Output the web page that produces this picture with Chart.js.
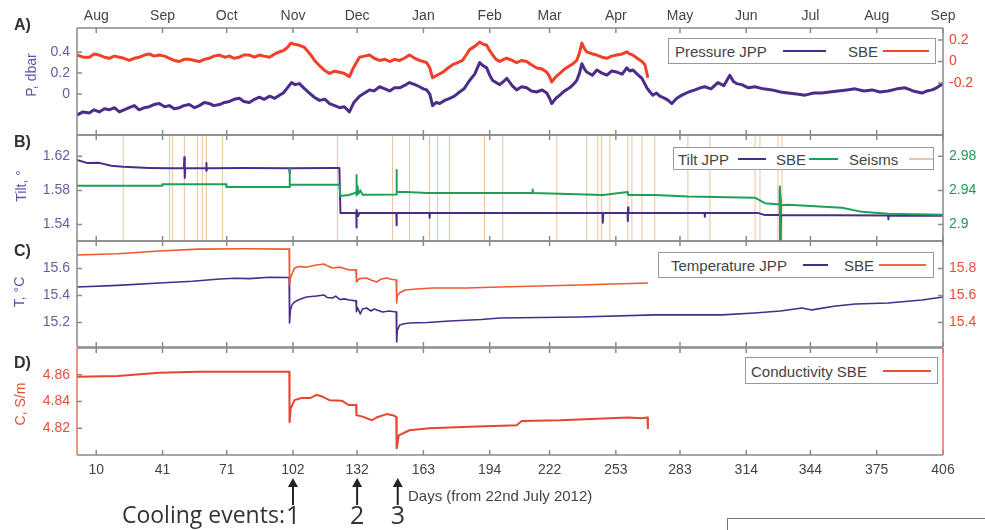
<!DOCTYPE html>
<html>
<head>
<meta charset="utf-8">
<script src="https://cdn.jsdelivr.net/npm/chart.js@4.4.1/dist/chart.umd.min.js"></script>
<style>
body{margin:0;background:#fff;width:985px;height:530px;position:relative;overflow:hidden;font-family:"Liberation Sans",Arial,sans-serif;}
canvas{position:absolute;left:0;}
.pl{position:absolute;font-weight:bold;font-size:16px;line-height:16px;color:#333;}
.yt{position:absolute;font-size:14px;white-space:nowrap;transform:translate(-50%,-50%) rotate(-90deg);}
.leg{position:absolute;border:1px solid #999;background:#fff;font-size:15px;color:#444;}
.leg span{position:absolute;top:50%;transform:translateY(-50%);white-space:nowrap;}
.leg b{position:absolute;top:50%;height:2px;margin-top:-1px;}
.ann{position:absolute;font-family:"Open Sans",sans-serif;color:#333;white-space:nowrap;line-height:1;}
</style>
</head>
<body>
<canvas id="pA" width="985" height="137" style="top:0"></canvas>
<canvas id="pB" width="985" height="110" style="top:133px"></canvas>
<canvas id="pC" width="985" height="110" style="top:239px"></canvas>
<canvas id="pD" width="985" height="184" style="top:346px"></canvas>

<div class="pl" style="left:14px;top:17px">A)</div>
<div class="pl" style="left:14px;top:134px">B)</div>
<div class="pl" style="left:14px;top:243px">C)</div>
<div class="pl" style="left:14px;top:355px">D)</div>

<div class="yt" style="left:31px;top:75px;color:#6a4fa8">P, dbar</div>
<div class="yt" style="left:21px;top:186px;color:#6a4fa8">Tilt, °</div>
<div class="yt" style="left:19px;top:292px;color:#6a4fa8">T, °C</div>
<div class="yt" style="left:20px;top:404px;color:#e0503a">C, S/m</div>

<div class="leg" style="left:668px;top:38px;width:266px;height:24px">
  <span style="left:6px">Pressure JPP</span><b style="left:114px;width:43px;background:#4a2c8a"></b>
  <span style="left:179px">SBE</span><b style="left:214px;width:46px;background:#f0452a"></b>
</div>
<div class="leg" style="left:673px;top:147px;width:259px;height:21px">
  <span style="left:4px">Tilt JPP</span><b style="left:64px;width:28px;background:#4a2c8a"></b>
  <span style="left:102px">SBE</span><b style="left:135px;width:29px;background:#1fa05a"></b>
  <span style="left:175px">Seisms</span><b style="left:235px;width:24px;background:#e7c9a6"></b>
</div>
<div class="leg" style="left:658px;top:252px;width:274px;height:24px">
  <span style="left:12px">Temperature JPP</span><b style="left:144px;width:25px;background:#4a2c8a"></b>
  <span style="left:185px">SBE</span><b style="left:220px;width:47px;background:#ee6a3a"></b>
</div>
<div class="leg" style="left:745px;top:357px;width:191px;height:25px">
  <span style="left:5px">Conductivity SBE</span><b style="left:137px;width:48px;background:#e8503a"></b>
</div>

<div class="ann" id="days" style="font-family:'Liberation Sans',Arial,sans-serif;font-size:15px;color:#444;left:408px;top:488px">Days (from 22nd July 2012)</div>
<div class="ann" id="cool" style="font-size:23px;top:503px">Cooling events:</div>
<div class="ann" id="ev1" style="font-size:25px;top:502px">1</div>
<div class="ann" id="ev2" style="font-size:25px;top:502px">2</div>
<div class="ann" id="ev3" style="font-size:25px;top:502px">3</div>
<div style="position:absolute;left:727px;top:518px;width:260px;height:20px;border-top:1px solid #777;border-left:1px solid #777"></div>

<script>
// month starts, in days from 22 July 2012
var dayTicks = [10,41,71,102,132,163,194,222,253,283,314,344,375,406];
var monthNames = ['Aug','Sep','Oct','Nov','Dec','Jan','Feb','Mar','Apr','May','Jun','Jul','Aug','Sep'];
var coolingDays = [102,132,151];

// pressure, dbar  [day, value]
var presJPP = [[1,-0.20],[3.8,-0.17],[6.7,-0.18],[9,-0.15],[11.4,-0.17],[13.8,-0.14],[16.1,-0.15],[18.5,-0.13],[20.8,-0.17],[23,-0.15],
  [25.4,-0.13],[27.8,-0.11],[30.1,-0.15],[32.5,-0.13],[34.8,-0.12],[37,-0.10],[39.5,-0.09],[42,-0.12],[44.2,-0.11],[46.5,-0.14],
  [48.9,-0.13],[51,-0.11],[53.5,-0.10],[56,-0.13],[58.2,-0.11],[60.5,-0.08],[62.9,-0.09],[65,-0.11],[67.6,-0.10],[70,-0.08],
  [72.3,-0.07],[74.5,-0.05],[76.9,-0.04],[79,-0.07],[81.6,-0.08],[84,-0.05],[86.3,-0.03],[88.5,-0.05],[91,-0.02],[93.5,-0.04],
  [95.7,-0.01],[97.5,0.01],[99.4,0.06],[101.3,0.11],[103,0.09],[105,0.10],[107.5,0.05],[109.7,0.01],[112,-0.03],[114.4,-0.06],
  [117,-0.05],[119.1,-0.09],[121.5,-0.11],[123.8,-0.13],[126,-0.12],[128.4,-0.17],[130.5,-0.08],[133.1,-0.02],[135.5,0.01],[137.8,0.04],
  [140,0.03],[142.5,0.07],[145,0.05],[147.2,0.03],[149.5,0.06],[151.9,0.06],[154,0.08],[156.5,0.11],[159,0.09],[161.2,0.07],
  [163,0.05],[164.5,0.04],[166,0.00],[167.3,-0.11],[169,-0.08],[170.6,-0.09],[173,-0.06],[175.3,-0.04],[177.5,-0.02],[179.9,0.02],
  [182,0.05],[184.6,0.13],[187,0.19],[189.3,0.30],[191,0.27],[192.6,0.25],[194,0.18],[195.4,0.13],[197,0.11],[198.7,0.09],
  [200.5,0.12],[202,0.15],[204.5,0.08],[206.6,0.04],[209,0.07],[211.3,0.06],[213.5,0.03],[216,0.02],[218.5,0.04],[220.7,0.01],
  [222,-0.04],[223,-0.09],[225,-0.04],[226.8,-0.01],[229,0.03],[231.4,0.06],[233,0.09],[234.7,0.13],[236,0.20],[237.1,0.29],
  [238.3,0.24],[239.4,0.21],[242,0.18],[244.1,0.23],[246.5,0.20],[248.8,0.18],[251,0.22],[253.4,0.21],[256,0.19],[258.1,0.25],
  [259.5,0.22],[260.9,0.23],[263,0.19],[265.2,0.15],[266.5,0.10],[267.5,0.06],[269,0.02],[270.3,-0.01],[272,0.01],[273.6,-0.02],
  [275.9,-0.04],[277.5,-0.06],[279.2,-0.09],[281.5,-0.04],[283.9,-0.01],[287,0.02],[290,0.04],[292.5,0.06],[294.6,0.07],[297.5,0.05],
  [300.7,0.11],[303.5,0.08],[306.3,0.18],[308,0.12],[309.5,0.10],[311.9,0.09],[315,0.06],[318,0.07],[322,0.05],[326,0.04],
  [330,0.02],[333.5,0.01],[337.5,0.00],[341.5,-0.01],[345.5,0.01],[349.4,0.01],[353,0.02],[356.9,0.03],[361,0.04],[364.9,0.05],
  [369,0.03],[372.8,0.04],[376.5,0.02],[380.3,0.03],[384.5,0.05],[388.3,0.06],[392,0.03],[396.2,0.01],[398.5,0.03],[400.9,0.04],
  [403,0.06],[406,0.10]];
var presSBE = [[1,0.06],[3.8,0.04],[6.7,0.04],[9,0.07],[11.4,0.06],[13.8,0.04],[16.1,0.03],[18.5,0.05],[20.8,0.04],[23,0.03],
  [25.4,0.01],[27.8,0.03],[30.1,0.04],[32.5,0.06],[34.8,0.07],[37,0.05],[39.5,0.06],[42,0.05],[44.2,0.03],[46.5,0.01],
  [48.9,0.00],[51,0.02],[53.5,0.02],[56,0.01],[58.2,0.00],[60.5,0.02],[62.9,0.03],[65,0.05],[67.6,0.06],[70,0.04],
  [72.3,0.05],[74.5,0.03],[76.9,0.04],[79,0.06],[81.6,0.06],[84,0.04],[86.3,0.06],[88.5,0.05],[91,0.04],[93.5,0.07],
  [95.7,0.09],[97.5,0.10],[99.4,0.13],[101,0.17],[102.7,0.16],[105,0.15],[107.4,0.13],[110,0.07],[112.1,0.01],[114.5,-0.04],
  [116.7,-0.08],[119.1,-0.11],[121.5,-0.09],[123.8,-0.10],[126,-0.11],[128.4,-0.14],[130.5,-0.05],[133.1,0.04],[135.5,0.05],[137.8,0.06],
  [140,0.03],[142.5,0.01],[145,0.02],[147.2,0.00],[149.5,0.02],[151.9,0.01],[154,0.03],[156.5,0.06],[159,0.03],[161.2,0.01],
  [163,0.00],[164.5,-0.01],[166,-0.06],[167.3,-0.15],[170,-0.12],[172,-0.10],[174.5,-0.06],[176.7,-0.03],[179,-0.01],[181.3,0.01],
  [183,0.06],[184.6,0.11],[187,0.14],[189.3,0.18],[191,0.16],[192.6,0.15],[194,0.10],[195.4,0.06],[197,0.02],[198.7,0.00],
  [200.5,0.02],[202,0.03],[204.5,0.01],[206.6,-0.01],[209,0.01],[211.3,0.00],[213.5,-0.03],[216,-0.06],[218.5,-0.07],[220.7,-0.10],
  [222,-0.14],[223,-0.19],[225,-0.14],[226.8,-0.11],[229,-0.07],[231.4,-0.04],[233,-0.02],[234.7,0.01],[236,0.08],[237.1,0.17],
  [238.3,0.12],[239.4,0.09],[242,0.07],[244.1,0.06],[246.5,0.04],[248.8,0.03],[251,0.05],[253.4,0.06],[256,0.07],[258.1,0.09],
  [259.5,0.07],[260.9,0.06],[263,0.03],[265.2,0.00],[266.6,-0.03],[268,-0.15]];

// tilt, degrees
var tiltJPP = [[1,1.6158],[6,1.612],[11.4,1.6123],[17,1.609],[22.6,1.6076],[30,1.6068],[34.8,1.6064],[45,1.606],[51,1.606],[51.2,1.619],
  [51.4,1.5947],[51.6,1.606],[61.4,1.606],[61.5,1.612],[61.6,1.603],[61.8,1.606],[80,1.6062],[100.3,1.606],[100.4,1.600],[100.6,1.606],
  [119.1,1.6064],[123.7,1.6064],[124.2,1.5536],[131.6,1.5536],[131.7,1.5365],[131.8,1.557],[132,1.5536],[132.5,1.550],[133,1.5536],[150.3,1.5536],
  [150.4,1.539],[150.6,1.5536],[165.8,1.5536],[165.9,1.548],[166.1,1.5536],[246.8,1.5536],[246.9,1.542],[247.1,1.5536],[258.5,1.5536],[258.6,1.544],
  [258.7,1.560],[258.9,1.5536],[294.5,1.5536],[294.6,1.549],[294.8,1.5536],[319.4,1.5536],[322.7,1.551],[329.6,1.551],[329.7,1.582],[329.8,1.5219],
  [329.9,1.570],[330.1,1.535],[330.3,1.551],[380.3,1.5505],[380.4,1.546],[380.6,1.5505],[406,1.5502]];
var tiltSBE = [[1,2.9453],[40.8,2.9453],[40.9,2.9472],[70.8,2.9472],[70.9,2.9441],[100.3,2.9441],[100.4,2.9664],[100.6,2.9441],[101,2.9465],[123.7,2.9465],
  [124.2,2.9335],[128,2.9345],[130,2.936],[131.6,2.938],[131.7,2.9582],[131.8,2.934],[132.2,2.945],[132.6,2.936],[133.5,2.940],[134.5,2.935],
  [136,2.935],[150.3,2.9352],[150.4,2.964],[150.6,2.9382],[155,2.9382],[165,2.937],[214,2.937],[214.1,2.941],[214.3,2.937],[246.9,2.9347],
  [258.6,2.938],[258.8,2.9347],[271.2,2.9347],[286.7,2.9327],[318,2.9315],[322.7,2.925],[329.6,2.9235],[329.7,2.9446],[329.8,2.882],[329.9,2.935],
  [330.1,2.910],[330.3,2.9225],[333.5,2.923],[358.8,2.9195],[368.1,2.9148],[380.3,2.9125],[406,2.9113]];
var seismDays = [22.6,44.2,45.6,51.2,57.3,59.6,61.5,69,122.8,148.6,156.5,165.9,169.6,175.3,191.6,200.1,225.4,239.4,244.6,246.4,
  250.2,258.6,260.5,265.2,271.2,286.7,297,318.1,320.4,328.8,330.7];

// temperature, deg C
var tempJPP = [[1,15.463],[20,15.475],[39.5,15.493],[55,15.505],[67.6,15.522],[75,15.528],[81.6,15.525],[91,15.535],[100.2,15.533],[100.4,15.196],
  [100.8,15.29],[101.5,15.33],[102.7,15.352],[105,15.37],[108.3,15.389],[113,15.396],[116.5,15.404],[118,15.385],[120.5,15.381],[122,15.395],
  [124,15.37],[126,15.375],[128.4,15.367],[131.5,15.36],[131.7,15.28],[132.2,15.31],[133.5,15.263],[134.5,15.30],[136.4,15.307],[138.5,15.285],
  [140,15.30],[143.9,15.278],[147,15.285],[150.3,15.278],[150.5,15.056],[150.8,15.14],[151.9,15.181],[154,15.19],[156.5,15.196],[165,15.20],
  [175.3,15.211],[190,15.222],[198.7,15.233],[236,15.241],[271.2,15.256],[302.6,15.256],[318,15.27],[330,15.285],[340,15.307],[344.7,15.293],
  [355,15.32],[364.9,15.337],[380.3,15.344],[396.2,15.367],[406,15.389]];
var tempSBE = [[1,15.900],[20,15.91],[39.5,15.930],[58,15.944],[80,15.946],[100.2,15.944],[100.4,15.678],[100.8,15.73],[102.7,15.804],[105,15.815],
  [108,15.81],[113,15.826],[116.5,15.833],[118,15.82],[120.5,15.804],[124,15.81],[128.4,15.789],[131.5,15.79],[131.7,15.70],[133,15.725],
  [136.4,15.73],[138.5,15.715],[141.1,15.70],[143,15.72],[145.8,15.73],[148,15.72],[150.3,15.715],[150.5,15.544],[150.8,15.60],[152,15.62],
  [154.5,15.641],[160,15.648],[167.3,15.656],[183.2,15.656],[198.7,15.663],[236,15.678],[268,15.693]];

// conductivity, S/m
var condSBE = [[1,4.8585],[20,4.859],[39.5,4.8615],[58,4.8623],[100.3,4.8623],[100.4,4.8245],[101,4.835],[102.7,4.841],[106,4.8426],[110,4.8426],
  [113,4.845],[116,4.8435],[119.1,4.841],[125,4.8405],[128,4.8374],[131.5,4.8374],[131.7,4.8298],[134.5,4.8287],[139,4.826],[141,4.828],
  [145.8,4.8306],[148.6,4.8298],[150.3,4.8285],[150.5,4.805],[151.5,4.8147],[156.5,4.8185],[165.9,4.82],[181.3,4.821],[206.6,4.8223],[209,4.8255],
  [227,4.826],[258.6,4.828],[265.2,4.8275],[267.8,4.828],[268,4.82]];

var PURPLE = '#4a2c8a', RED = '#f0402a', GREEN = '#1fa05a', ORANGE = '#ee5a30', CRED = '#e6452f';
var FONT = {family:'"Liberation Sans", Arial, sans-serif', size:14};

function xy(arr){ return arr.map(function(p){ return {x:p[0], y:p[1]}; }); }

function line(arr, color, w, axis, order){
  return {data: xy(arr), borderColor: color, borderWidth: w, yAxisID: axis, order: order || 0, fill: false};
}

// frame round the plot area with inward ticks on all sides
var frame = {
  id: 'frame',
  afterDraw: function(c, args, o){
    var a = c.chartArea, g = c.ctx, xs = c.scales.x;
    g.save();
    g.lineWidth = 1.5;
    g.strokeStyle = '#8a8a8a';
    g.beginPath();
    dayTicks.forEach(function(d){
      var p = xs.getPixelForValue(d);
      g.moveTo(p, a.top); g.lineTo(p, a.top + 5);
      g.moveTo(p, a.bottom); g.lineTo(p, a.bottom - 5);
    });
    ['y','y2'].forEach(function(id){
      var s = c.scales[id];
      if (!s) return;
      s.ticks.forEach(function(t){
        var py = s.getPixelForValue(t.value);
        if (s.position === 'left') { g.moveTo(a.left, py); g.lineTo(a.left + 5, py); }
        else { g.moveTo(a.right, py); g.lineTo(a.right - 5, py); }
      });
    });
    g.moveTo(a.left, a.top); g.lineTo(a.right, a.top);
    g.moveTo(a.left, a.bottom); g.lineTo(a.right, a.bottom);
    g.stroke();
    g.beginPath(); g.strokeStyle = o.leftColor || '#8a8a8a';
    g.moveTo(a.left, a.top); g.lineTo(a.left, a.bottom); g.stroke();
    g.beginPath(); g.strokeStyle = o.rightColor || '#8a8a8a';
    g.moveTo(a.right, a.top); g.lineTo(a.right, a.bottom); g.stroke();
    g.restore();
  }
};

// arrows under the day axis for the cooling events
var arrows = {
  id: 'arrows',
  afterDraw: function(c){
    var a = c.chartArea, g = c.ctx, xs = c.scales.x;
    g.save();
    g.strokeStyle = '#222'; g.fillStyle = '#222'; g.lineWidth = 2;
    coolingDays.forEach(function(d){
      var p = xs.getPixelForValue(d), tip = a.bottom + 23;
      g.beginPath(); g.moveTo(p, tip + 4); g.lineTo(p, a.bottom + 50); g.stroke();
      g.beginPath(); g.moveTo(p, tip); g.lineTo(p - 5, tip + 9); g.lineTo(p + 5, tip + 9); g.closePath(); g.fill();
    });
    g.restore();
  }
};

function yAxis(pos, min, max, ticks, color){
  return {
    type: 'linear', axis: 'y', position: pos, min: min, max: max,
    afterBuildTicks: function(s){ s.ticks = ticks.map(function(v){ return {value: v}; }); },
    afterFit: function(s){ s.width = pos === 'left' ? 77 : 42; s.paddingTop = 0; s.paddingBottom = 0; },
    grid: {display: false, drawTicks: false}, border: {display: false},
    ticks: {color: color, padding: pos === 'left' ? 7 : 6, font: FONT, callback: function(v){ return String(v); }}
  };
}

function xAxis(pos, labels){
  return {
    type: 'linear', min: 1, max: 406, display: !!pos, position: pos || 'bottom',
    afterBuildTicks: function(s){ s.ticks = dayTicks.map(function(v){ return {value: v}; }); },
    afterFit: function(s){ if (pos) s.height = pos === 'top' ? 28 : 30; s.paddingLeft = 0; s.paddingRight = 0; },
    grid: {display: false, drawTicks: false}, border: {display: false},
    ticks: {color: '#444', padding: pos === 'top' ? 3 : 7, font: FONT, autoSkip: false, maxRotation: 0,
      callback: function(v, i){ return labels[i]; }}
  };
}

function panel(id, pad, sets, scales, frameOpts, extra){
  return new Chart(document.getElementById(id), {
    type: 'line',
    data: {datasets: sets},
    options: {
      responsive: false, animation: false, devicePixelRatio: 1,
      layout: {padding: pad},
      plugins: {legend: {display: false}, tooltip: {enabled: false}, frame: frameOpts || {}},
      elements: {point: {radius: 0}, line: {tension: 0, borderJoinStyle: 'round'}},
      scales: scales
    },
    plugins: [frame].concat(extra || [])
  });
}

// A) pressure
panel('pA', {top: 0, bottom: 2},
  [line(presJPP, PURPLE, 3, 'y', 1), line(presSBE, RED, 3, 'y2', 0)],
  {x: xAxis('top', monthNames),
   y: yAxis('left', -0.39, 0.63, [0, 0.2, 0.4], '#6d5aa0'),
   y2: yAxis('right', -0.68, 0.31, [-0.2, 0, 0.2], '#e8452e')});

// B) tilt, with seism marks
var seismLines = [];
seismDays.forEach(function(d){
  seismLines.push({x: d, y: 1.5206}, {x: d, y: 1.645}, {x: d, y: null});
});
panel('pB', {top: 2, bottom: 2},
  [{data: seismLines, borderColor: 'rgba(222,170,115,0.7)', borderWidth: 1, yAxisID: 'y', order: 3, spanGaps: false},
   line(tiltJPP, PURPLE, 2, 'y', 1), line(tiltSBE, GREEN, 2, 'y2', 0)],
  {x: xAxis(null, dayTicks),
   y: yAxis('left', 1.5206, 1.645, [1.54, 1.58, 1.62], '#6d5aa0'),
   y2: yAxis('right', 2.8806, 3.005, [2.9, 2.94, 2.98], '#1f9a50')});

// C) temperature
panel('pC', {top: 2, bottom: 2},
  [line(tempJPP, PURPLE, 1.6, 'y', 1), line(tempSBE, ORANGE, 1.6, 'y2', 0)],
  {x: xAxis(null, dayTicks),
   y: yAxis('left', 15.018, 15.804, [15.2, 15.4, 15.6], '#6d5aa0'),
   y2: yAxis('right', 15.218, 16.004, [15.4, 15.6, 15.8], '#e8502e')});

// D) conductivity (no right axis, so pad the right side instead)
var chD = panel('pD', {top: 2, bottom: 45, right: 42},
  [line(condSBE, CRED, 2, 'y', 0)],
  {x: xAxis('bottom', dayTicks.map(String)),
   y: yAxis('left', 4.80, 4.88, [4.82, 4.84, 4.86], '#e0503a')},
  {leftColor: '#e8705a', rightColor: '#e8705a'}, [arrows]);

// event numbers sit on the arrows
var xs = chD.scales.x;
['ev1','ev2','ev3'].forEach(function(id, i){
  var el = document.getElementById(id);
  el.style.left = (xs.getPixelForValue(coolingDays[i]) - el.offsetWidth / 2) + 'px';
});
var cool = document.getElementById('cool');
cool.style.left = (xs.getPixelForValue(coolingDays[0]) - 8 - cool.offsetWidth) + 'px';
</script>
</body>
</html>
